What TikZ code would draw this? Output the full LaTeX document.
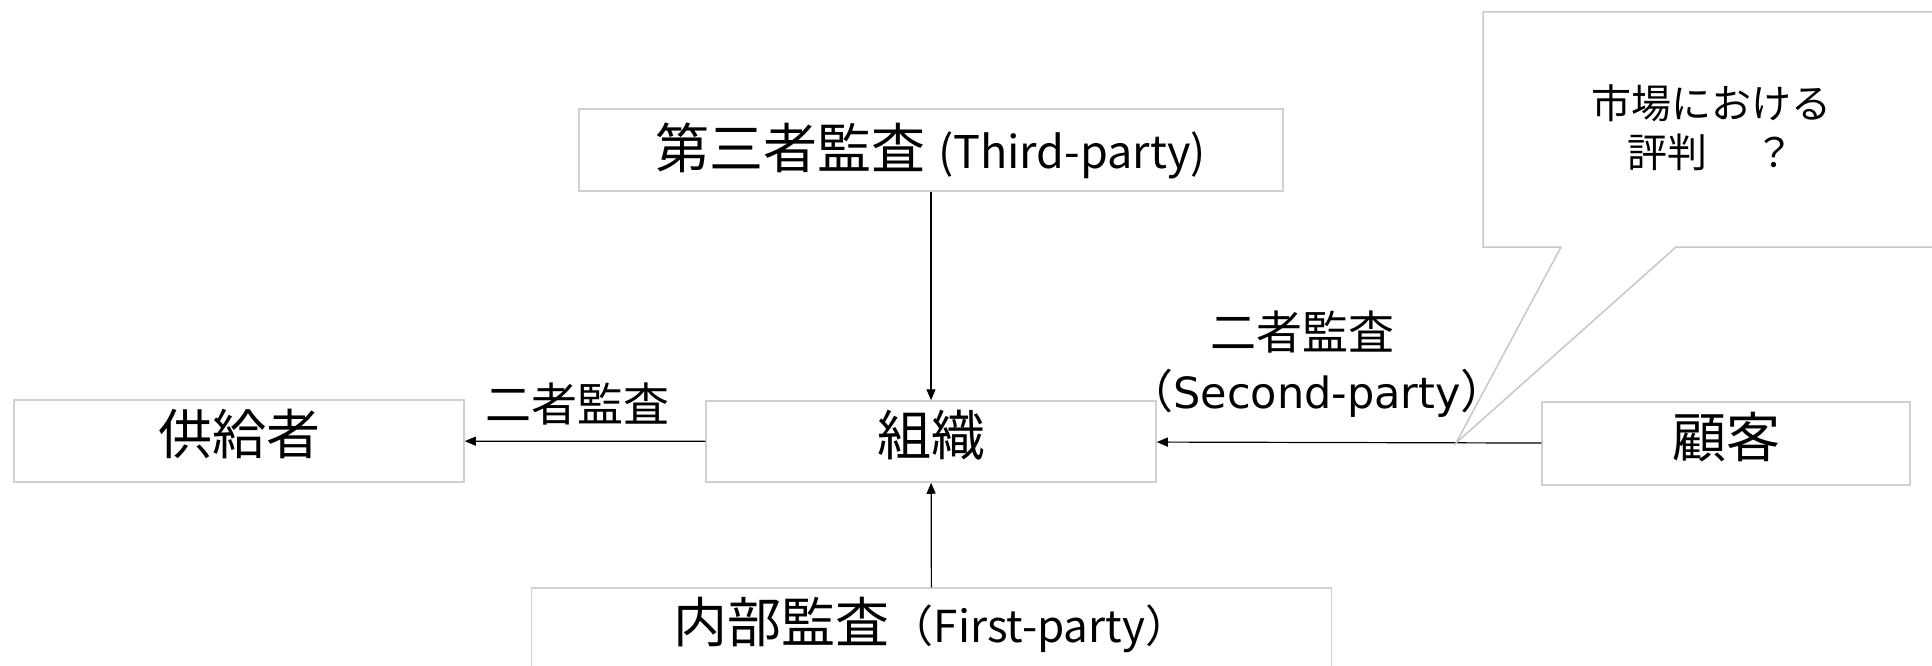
\documentclass[tikz,border=0pt]{standalone}
\usepackage{fontspec}
\setmainfont{Noto Sans CJK JP}
\newfontfamily\dv{DejaVu Sans}
\usetikzlibrary{arrows.meta}
\definecolor{boxgray}{HTML}{D0D0D0}
\definecolor{callgray}{HTML}{C8C8C8}
\begin{document}
\begin{tikzpicture}[x=1pt,y=-1pt,
  box/.style={draw=boxgray, line width=1.5pt, inner sep=0pt, font=\fontsize{54}{60}\selectfont, text height=45pt, text depth=18pt},
  conn/.style={line width=1.2pt, -{Triangle[length=11pt,width=9pt]}},
  lbl/.style={inner sep=0pt, font=\fontsize{46}{52}\selectfont}]
\useasboundingbox (0,0) rectangle (1932,666);
\fill[white] (0,0) rectangle (1932,666);
\node[box, minimum width=450pt, minimum height=82pt] (sup) at (239,441) {供給者};
\node[box, minimum width=450pt, minimum height=81pt] (org) at (931,441.5) {組織};
\node[box, minimum width=368pt, minimum height=83pt] (cust) at (1726,443.5) {顧客};
\node[box, minimum width=704pt, minimum height=82pt, text depth=8pt] (third) at (931,150) {第三者監査 {\fontsize{45}{50}\selectfont (Third-party)}};
\node[box, minimum width=800pt, minimum height=82pt] (internal) at (931.5,629) {内部監査{\fontsize{44}{48}\selectfont （First-party）}};
\draw[conn] (third) -- (org);
\draw[conn] (org) -- (sup);
\draw[conn] (cust) -- (org);
\draw[conn] (internal) -- (org);
\node[lbl] (l1) at (577,404) {二者監査};
\node[lbl] (l2) at (1302,332) {二者監査};
\node[lbl] (l3) at (1317,393) {（{\dv\fontsize{43}{48}\selectfont Second-party}）};
\coordinate (c1) at (1483,12);
\coordinate (c2) at (1940,12);
\coordinate (c3) at (1940,247);
\coordinate (c4) at (1676,247);
\coordinate (tip) at (1456,443);
\coordinate (c5) at (1561,247);
\coordinate (c6) at (1483,247);
\draw[callgray, line width=1.5pt, line join=miter] (c1) -- (c2) -- (c3) -- (c4) -- (tip) -- (c5) -- (c6) -- cycle;
\node[align=center, inner sep=0pt, font=\fontsize{40}{49}\selectfont] (rep) at (1711,128) {市場における\\評判\hspace{1.2em}？};
\end{tikzpicture}
\end{document}
